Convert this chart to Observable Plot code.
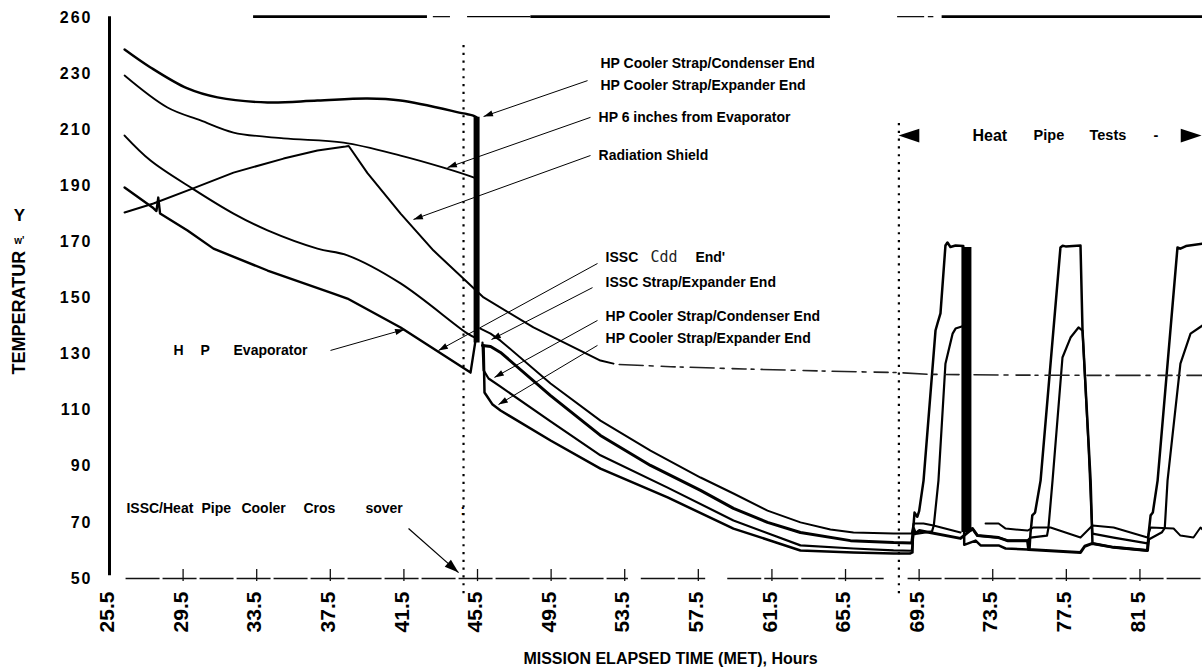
<!DOCTYPE html>
<html><head><meta charset="utf-8">
<script src="https://cdn.jsdelivr.net/npm/d3@7"></script>
<script src="https://cdn.jsdelivr.net/npm/@observablehq/plot@0.6"></script>
<style>
html,body{margin:0;padding:0;background:#fff;}
#chart svg{display:block;}
g[aria-label="y-axis tick label"] text{letter-spacing:2px;}
</style></head><body><div id="chart"></div>
<script>
// ---------- data (MET hours, temperature) ----------
const xTickValues = [25.5,29.5,33.5,37.5,41.5,45.5,49.5,53.5,57.5,61.5,65.5,69.5,73.5,77.5,81.5];
const xTickLabels = ["25.5","29.5","33.5","37.5","41.5","45.5","49.5","53.5","57.5","61.5","65.5","69.5","73.5","77.5","81 5"];
const yTickValues = [50,70,90,110,130,150,170,190,210,230,250];
const yTickLabels = ["50","70","90","110","130","150","170","190","210","230","260"];

// before the ISSC / heat pipe cooler crossover
const strapTopT = [26.32,27.73,29.74,31.37,34.09,36.8,39.52,41.32,44.74,45.23,45.45];
const strapTopV = [238.6,232.2,224.7,221.5,219.7,220.4,221.1,220.4,215.8,215.1,214.4];
const sixInchT = [26.32,28.65,30.45,32.24,34.96,38.22,41.32,43.65,45.28,45.45];
const sixInchV = [229.3,217.9,213.3,209.0,206.9,205.4,200.8,196.5,193.0,192.5];
const isscPreT = [26.32,27.73,30.01,32.24,34.09,36.8,38.43,41.32,44.96,45.45];
const isscPreV = [207.9,199.0,189.0,180.1,174.1,167.6,165.2,155.2,137.3,135.6];
const evapPreT = [26.32,27.84,28.05,28.15,28.25,29.74,31.15,34.09,37.67,38.43,41.32,45.12,45.39,45.45];
const evapPreV = [189.4,182.3,181.0,185.8,180.1,174.1,167.6,159.8,151.6,149.8,139.5,123.4,134.8,136.0];
const shieldT = [26.32,27.89,30.01,32.24,34.96,36.8,38.33,38.5,39.52,41.32,43.11,45.83,48.54,52.18,52.89];
const shieldV = [180.5,183.7,189.0,194.7,199.7,202.6,204.0,204.2,194.5,180.1,166.9,150.2,139.5,127.7,126.6];
const shieldLateT = [53.2,56,60,64,68.4,70,75,80,84.9];
const shieldLateV = [126.3,125.5,124.7,124.0,123.4,122.8,122.5,122.4,122.4];

// after the crossover, through the heat pipe tests
const postAT = [45.66,46.21,46.75,49.47,52.18,54.90,57.62,59.41,61.26,63.05,64.68,65.93,68.11,69.1,69.2,69.74,70.28,71.75,72.5,73.11,73.82,74.2,75.39,75.72,76.64,78.27,78.92,80.07,81.91,82.08,83.33,83.7,84.41,84.79,84.9];
const postAV = [139.1,137.3,134.8,119.5,106.3,95.6,86.0,80.3,74.2,70.0,67.5,66.4,66.0,66.0,69.6,69.6,68.9,66.4,null,69.6,69.6,67.8,67.1,68.2,68.2,64.6,68.9,68.2,64.6,68.2,67.8,65.3,64.6,68.2,67.5];
const postBT = [45.77,46.21,46.75,49.47,52.18,54.90,57.62,59.41,61.26,63.05,65.77,68.11,69.1,69.2,69.3,69.5,71.75,72.4,72.67,73.82,74.3,75.39,75.45,78.27,78.5,78.92,80.07,81.91,81.97];
const postBV = [133.1,132.7,130.6,115.2,101.0,90.3,81.4,75.0,70.0,66.4,63.5,62.8,62.7,67.8,66.0,67.1,64.3,67.8,65.3,64.6,63.5,63.5,60.3,59.3,61.5,62.5,61.1,60.0,64.0];
const postCT = [45.77,45.83,46.10,46.75,49.47,52.18,55.83,59.41,63.05,65.93,68.11,69.1,69.2,69.4,70.2,70.3,70.55,70.93,71.32,71.48,71.9,71.95,72.4,72.67,73.82,74.3,75.39,75.55,76.45,76.53,76.75,77.29,77.73,78.16,78.38,78.71,78.85,78.92,80.07,81.91,82.0,82.7,82.85,83.0,83.7,84.25,84.9];
const postCV = [134.1,124.2,121.3,118.4,106.0,93.9,82.4,70.7,61.8,60.7,60.0,59.9,66.5,66.0,66.8,69.0,84.9,126.6,137.3,139.1,140.0,67.8,67.8,65.3,64.6,63.5,63.5,64.6,65.3,68.2,84.9,128.8,135.9,139.5,138.4,96.7,75.0,66.0,64.6,62.5,64.0,66.5,68.0,84.9,126.6,137.3,140.2];
const postDT = [45.83,45.88,46.32,46.75,49.47,52.18,55.83,59.41,63.05,65.93,68.11,69.0,69.14,69.17,69.25,69.4,69.5,69.74,70.39,70.5,70.66,70.93,71.04,71.2,71.48,71.9,71.95,72.57,72.84,73.82,74.2,75.39,75.5,75.55,75.65,75.8,76.1,77.18,77.3,77.46,78.27,78.38,78.82,78.92,80.07,81.91,81.97,82.08,82.2,82.46,83.54,83.7,84.0,84.9];
const postDV = [133.1,116.3,112.0,109.9,99.2,89.2,78.9,67.8,60.0,59.3,58.9,58.9,59.3,67.0,73.5,72.0,74.0,84.9,138.4,141.0,144.5,168.7,169.8,168.2,168.7,168.5,62.0,63.5,61.8,61.8,60.7,60.3,60.5,66.0,72.5,73.5,84.9,168.0,168.6,168.4,168.7,138.4,84.9,62.5,61.1,60.0,66.0,72.5,73.5,84.9,168.0,167.6,168.5,169.4];

// event markers
const crossoverT = 44.74, heatPipeStartT = 68.4;
const barTimes = [45.45, 72.07], barLow = [134, 66.4], barHigh = [214.4, 168.0];

// frame pieces (top border and broken base line)
const topThickStart = [33.33, 48.4, 70.75], topThickEnd = [42.78, 64.68, 84.9];
const topThinStart = [43.1, 44.96, 68.33, 70.0], topThinEnd = [44.03, 48.4, 69.8, 70.3];
const baseStart = [26.4, 54.4, 59.1, 68.9], baseEnd = [53.7, 57.9, 67.6, 84.9];

// annotation leaders: label end -> target on curve
const leadFromT = [51.48,51.64,51.64,37.51,52.02,51.75,52.02,52.02];
const leadFromV = [227.5,214.4,200.8,131.3,162.3,153.7,142.0,133.1];
const leadToT   = [45.83,43.87,42.02,41.53,43.38,46.26,46.42,46.64];
const leadToV   = [214.7,196.5,178.0,138.8,131.3,135.2,121.7,112.0];
const crossLeadFrom = [41.75, 67.8], crossLeadTo = [44.47, 52.1];
const hpArrowT = [68.38, 84.85], hpArrowV = 207.9;

// annotation labels
const labelText = ["HP Cooler Strap/Condenser End","HP Cooler Strap/Expander End","HP 6 inches from Evaporator","Radiation Shield",
  "ISSC","End'","ISSC Strap/Expander End","HP Cooler Strap/Condenser End","HP Cooler Strap/Expander End",
  "H","P","Evaporator","ISSC/Heat","Pipe","Cooler","Cros","sover",":"];
const labelT = [52.18,52.18,52.08,52.08, 52.46,57.34,52.46,52.46,52.46, 28.98,30.45,32.24, 26.42,30.5,32.67,36.04,39.41,44.58];
const labelV = [233.6,225.8,214.4,200.8, 164.4,164.4,155.5,143.4,135.6, 131.3,131.3,131.3, 75,75,75,75,75,74.2];
const lightText = ["Cdd"], lightT = [54.9], lightV = [164.4];
const hpTitleText = ["Heat","Pipe","Tests","-"], hpTitleT = [72.4,75.72,78.76,82.24];

// ---------- build ----------
const font = "'Liberation Sans', Arial, Helvetica, sans-serif";
function series(id, ts, vs){ return ts.map((t,i)=>({id, t, v: vs[i]})); }
const curves = [
  {d:series("strapTop",strapTopT,strapTopV), w:2.4, c:"catmull-rom"},
  {d:series("sixInch",sixInchT,sixInchV), w:1.8, c:"catmull-rom"},
  {d:series("isscPre",isscPreT,isscPreV), w:2.0, c:"catmull-rom"},
  {d:series("evapPre",evapPreT,evapPreV), w:2.4, c:"linear"},
  {d:series("shield",shieldT,shieldV), w:2.0, c:"linear"},
  {d:series("postA",postAT,postAV), w:2.0, c:"linear"},
  {d:series("postB",postBT,postBV), w:3.0, c:"linear"},
  {d:series("postC",postCT,postCV), w:2.2, c:"linear"},
  {d:series("postD",postDT,postDV), w:2.5, c:"linear"}
];
const sx = d3.scaleLinear([25.5,84.9],[109,1202]);
const sy = d3.scaleLinear([50,250],[578,17]);
function angle(t1,v1,t2,v2){ const dx = sx(t2)-sx(t1), dy = sy(v2)-sy(v1); return Math.atan2(dx,-dy)*180/Math.PI; }
const arrowHead = { draw(ctx, size){ const r = Math.sqrt(size/Math.PI); const L = 2.6*r, w = 0.85*r; ctx.moveTo(0,0); ctx.lineTo(-w,L); ctx.lineTo(w,L); ctx.closePath(); } };

const leaders = leadFromT.map((t,i)=>({t1:t, v1:leadFromV[i], t2:leadToT[i], v2:leadToV[i]}));
const crossLead = [{t1:crossLeadFrom[0], v1:crossLeadFrom[1], t2:crossLeadTo[0], v2:crossLeadTo[1]}];
const hpArrows = [{t:hpArrowT[0], v:hpArrowV, dir:-1},{t:hpArrowT[1], v:hpArrowV, dir:1}];
const xLabel = new Map(xTickValues.map((d,i)=>[d,xTickLabels[i]]));
const yLabel = new Map(yTickValues.map((d,i)=>[d,yTickLabels[i]]));
const idx = a => a.map((_,i)=>i);

const marks = [];
marks.push(Plot.ruleY(idx(baseStart), {y: ()=>50, x1: i=>baseStart[i], x2: i=>baseEnd[i], stroke:"#111", strokeWidth:1.3, strokeDasharray:"34,3"}));
marks.push(Plot.ruleX(xTickValues.slice(1), {x: d=>d, y1: 48.9, y2: 53.2, stroke:"#111", strokeWidth:1.3}));
marks.push(Plot.ruleY(idx(topThickStart), {y: ()=>250.3, x1: i=>topThickStart[i], x2: i=>topThickEnd[i], stroke:"black", strokeWidth:2.6}));
marks.push(Plot.ruleY(idx(topThinStart), {y: ()=>250.3, x1: i=>topThinStart[i], x2: i=>topThinEnd[i], stroke:"black", strokeWidth:1.2}));
marks.push(Plot.ruleX([25.5], {y1: 51, y2: 250.3, stroke:"black", strokeWidth:3}));
for (const c of curves) marks.push(Plot.line(c.d, {x:"t", y:"v", stroke:"black", strokeWidth:c.w, strokeLinejoin:"round", strokeLinecap:"round", curve:c.c}));
marks.push(Plot.line(series("shieldLate",shieldLateT,shieldLateV), {x:"t", y:"v", stroke:"#222", strokeWidth:1.6, strokeDasharray:"24,6,4,8,14,5,3,7"}));
marks.push(Plot.ruleX(idx(barTimes).slice(0,1), {x: i=>barTimes[i], y1: i=>barLow[i], y2: i=>barHigh[i], stroke:"black", strokeWidth:6}));
marks.push(Plot.ruleX(idx(barTimes).slice(1), {x: i=>barTimes[i], y1: i=>barLow[i], y2: i=>barHigh[i], stroke:"black", strokeWidth:10}));
marks.push(Plot.ruleX([crossoverT], {y1: 44.6, y2: 240.7, stroke:"black", strokeWidth:2.2, strokeDasharray:"2.2,5.6"}));
marks.push(Plot.ruleX([heatPipeStartT], {y1: 44.6, y2: 212.5, stroke:"black", strokeWidth:2.2, strokeDasharray:"2.2,5.6"}));
marks.push(Plot.link(leaders, {x1:"t1", y1:"v1", x2:"t2", y2:"v2", stroke:"black", strokeWidth:1}));
marks.push(Plot.dot(leaders, {x:"t2", y:"v2", r:3.6, symbol: arrowHead, fill:"black", stroke:"none", rotate: d=>angle(d.t1,d.v1,d.t2,d.v2)}));
marks.push(Plot.link(crossLead, {x1:"t1", y1:"v1", x2:"t2", y2:"v2", stroke:"black", strokeWidth:1.2}));
marks.push(Plot.dot(crossLead, {x:"t2", y:"v2", r:5.5, symbol: arrowHead, fill:"black", stroke:"none", rotate: d=>angle(d.t1,d.v1,d.t2,d.v2)}));
marks.push(Plot.dot(hpArrows, {x:"t", y:"v", r:8, symbol: arrowHead, fill:"black", stroke:"none", rotate: d=>d.dir*90}));
marks.push(Plot.text(idx(labelText), {x: i=>labelT[i], y: i=>labelV[i], text: i=>labelText[i], textAnchor:"start", fontSize:14, fontWeight:"bold", fontFamily:font, fill:"black"}));
marks.push(Plot.text(idx(lightText), {x: i=>lightT[i], y: i=>lightV[i], text: i=>lightText[i], textAnchor:"start", fontSize:15, fontWeight:"normal", fontFamily:"'DejaVu Sans Mono', monospace", fill:"#222"}));
marks.push(Plot.text(idx(hpTitleText), {x: i=>hpTitleT[i], y: ()=>hpArrowV, text: i=>hpTitleText[i], textAnchor:"start", fontSize:i=>i===0?16:14.5, fontWeight:"bold", fontFamily:font, fill:"black"}));
marks.push(Plot.axisX({ticks: xTickValues, tickFormat: d=>xLabel.get(d), tickRotate:-90, tickSize:0, tickPadding:13, fontSize:21, fontWeight:"bold", fontFamily:font, label:null, anchor:"bottom", dx:-2}));
marks.push(Plot.axisY({ticks: yTickValues, tickFormat: d=>yLabel.get(d), tickSize:0, tickPadding:17, fontSize:16, fontWeight:"bold", fontFamily:font, label:null, anchor:"left"}));
marks.push(Plot.text(["MISSION ELAPSED TIME (MET), Hours"], {x: ()=>55.99, y: ()=>21.5, text: d=>d, fontSize:16, fontWeight:"bold", fontFamily:font, fill:"black"}));
marks.push(Plot.text(["TEMPERATUR"], {x: ()=>20.6, y: ()=>144.8, text: d=>d, rotate:-90, fontSize:18, fontWeight:"bold", fontFamily:font, fill:"black"}));
marks.push(Plot.text(["Y"], {x: ()=>20.6, y: ()=>179.4, text: d=>d, fontSize:17, fontWeight:"bold", fontFamily:font, fill:"black"}));
marks.push(Plot.text(["w'"], {x: ()=>20.6, y: ()=>170.3, text: d=>d, fontSize:10, fontWeight:"bold", fontFamily:font, fill:"black"}));

const chart = Plot.plot({
  width: 1202, height: 668,
  marginLeft: 109, marginRight: 0, marginTop: 17, marginBottom: 90,
  x: {domain: [25.5, 84.9], axis: null},
  y: {domain: [50, 250], axis: null},
  style: {fontFamily: font, background: "white", color: "black", overflow: "visible"},
  marks
});
document.getElementById("chart").appendChild(chart);
</script></body></html>
